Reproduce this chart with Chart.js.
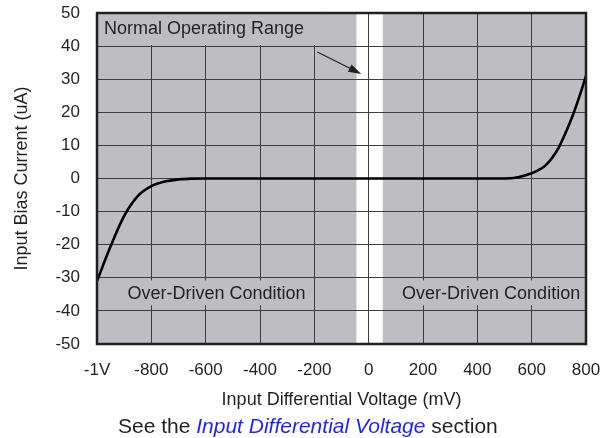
<!DOCTYPE html>
<html>
<head>
<meta charset="utf-8">
<script src="https://cdn.jsdelivr.net/npm/chart.js@4"></script>
<style>
  html, body { margin: 0; padding: 0; background: #fff; }
  #wrap { width: 603px; height: 438px; position: relative; }
</style>
</head>
<body>
<div id="wrap"><canvas id="biasChart"></canvas></div>
<script>
// input differential voltage (mV) vs input bias current (uA)
const voltageMv = [-1000, -950, -900, -850, -800, -750, -700, -650, -600, -400, -200, 0, 200, 400, 500, 550, 600, 625, 650, 675, 700, 725, 750, 775, 800];
const biasUa = [-31, -20.5, -11.3, -5.3, -2.3, -0.9, -0.3, -0.05, 0, 0, 0, 0, 0, 0, 0, 0.4, 1.6, 2.5, 3.9, 6.2, 9.4, 13.8, 18.8, 24.6, 31];

const xTicks = [-1000, -800, -600, -400, -200, 0, 200, 400, 600, 800];
const xTickLabels = ['-1V', '-800', '-600', '-400', '-200', '0', '200', '400', '600', '800'];

const GRAY = '#bebec2';
const INK = '#231f20';
const FONT = "'Liberation Sans', Arial, sans-serif";

// gray backdrop, white "normal" band, label boxes, arrow, frame, footnote
const decorPlugin = {
	id: 'decor',
	beforeDraw(chart) {
		const { ctx, chartArea: a, scales: { x } } = chart;
		ctx.save();
		ctx.fillStyle = GRAY;
		const bands = [[-1000, -45], [52, 800]];
		bands.forEach(([lo, hi]) => {
			const x0 = x.getPixelForValue(lo);
			const x1 = x.getPixelForValue(hi);
			ctx.fillRect(x0, a.top, x1 - x0, a.bottom - a.top);
		});
		ctx.restore();
	},
	beforeDatasetsDraw(chart) {
		const { ctx, chartArea: a, scales: { x, y } } = chart;
		ctx.save();

		// label boxes hide the grid behind the text
		ctx.fillStyle = GRAY;
		ctx.fillRect(a.left, a.top, x.getPixelForValue(-170) - a.left, y.getPixelForValue(40.3) - a.top);
		ctx.fillRect(x.getPixelForValue(-900), y.getPixelForValue(-30.8), x.getPixelForValue(-205) - x.getPixelForValue(-900), y.getPixelForValue(-38.3) - y.getPixelForValue(-30.8));
		ctx.fillRect(x.getPixelForValue(110), y.getPixelForValue(-30.8), a.right - x.getPixelForValue(110), y.getPixelForValue(-38.3) - y.getPixelForValue(-30.8));

		ctx.fillStyle = INK;
		ctx.font = '18px ' + FONT;
		ctx.textBaseline = 'middle';
		ctx.textAlign = 'left';
		ctx.fillText('Normal Operating Range', a.left + 7, y.getPixelForValue(45.2));
		ctx.fillText('Over-Driven Condition', x.getPixelForValue(-888), y.getPixelForValue(-34.8));
		ctx.fillText('Over-Driven Condition', x.getPixelForValue(123), y.getPixelForValue(-34.8));

		// arrow into the normal operating band
		const sx = x.getPixelForValue(-189), sy = y.getPixelForValue(38.2);
		const ex = x.getPixelForValue(-27), ey = y.getPixelForValue(31.6);
		const ang = Math.atan2(ey - sy, ex - sx);
		ctx.strokeStyle = INK;
		ctx.lineWidth = 1.2;
		ctx.beginPath();
		ctx.moveTo(sx, sy);
		ctx.lineTo(ex - 10 * Math.cos(ang), ey - 10 * Math.sin(ang));
		ctx.stroke();
		ctx.beginPath();
		ctx.moveTo(ex, ey);
		ctx.lineTo(ex - 13 * Math.cos(ang) + 4 * Math.sin(ang), ey - 13 * Math.sin(ang) - 4 * Math.cos(ang));
		ctx.lineTo(ex - 13 * Math.cos(ang) - 4 * Math.sin(ang), ey - 13 * Math.sin(ang) + 4 * Math.cos(ang));
		ctx.closePath();
		ctx.fill();
		ctx.restore();
	},
	afterDatasetsDraw(chart) {
		const { ctx, chartArea: a } = chart;
		ctx.save();
		ctx.strokeStyle = INK;
		ctx.lineWidth = 2.5;
		ctx.strokeRect(a.left, a.top, a.right - a.left, a.bottom - a.top);
		ctx.restore();
	},
	afterDraw(chart) {
		const { ctx } = chart;
		ctx.save();
		ctx.textBaseline = 'middle';
		ctx.textAlign = 'left';
		const parts = [
			{ text: 'See the ', font: '21px ' + FONT, color: INK },
			{ text: 'Input Differential Voltage', font: 'italic 21px ' + FONT, color: '#1f1fff' },
			{ text: ' section', font: '21px ' + FONT, color: INK }
		];
		let px = 118;
		parts.forEach(p => {
			ctx.font = p.font;
			ctx.fillStyle = p.color;
			ctx.fillText(p.text, px, 427);
			px += ctx.measureText(p.text).width;
		});
		ctx.restore();
	}
};

const ctx = document.getElementById('biasChart');
new Chart(ctx, {
	type: 'line',
	data: {
		labels: voltageMv,
		datasets: [{
			data: voltageMv.map((v, i) => ({ x: v, y: biasUa[i] })),
			borderColor: '#000',
			borderWidth: 2.6,
			pointRadius: 0,
			fill: false,
			cubicInterpolationMode: 'monotone'
		}]
	},
	options: {
		responsive: true,
		maintainAspectRatio: false,
		animation: false,
		layout: { padding: { top: 13, right: 17, left: 0, bottom: 0 } },
		plugins: {
			legend: { display: false },
			tooltip: { enabled: false }
		},
		scales: {
			x: {
				type: 'linear',
				min: -1000,
				max: 800,
				afterFit: (scale) => {
					scale.height = 94;
					scale.paddingLeft = 0;
					scale.paddingRight = 0;
				},
				afterBuildTicks: (scale) => { scale.ticks = xTicks.map(v => ({ value: v })); },
				ticks: {
					color: INK,
					font: { family: FONT, size: 17 },
					padding: 16,
					maxRotation: 0,
					autoSkip: false,
					callback: (v) => xTickLabels[xTicks.indexOf(v)]
				},
				grid: { color: '#3d3d3d', lineWidth: 1, drawTicks: false },
				border: { display: false },
				title: {
					display: true,
					text: 'Input Differential Voltage (mV)',
					color: INK,
					font: { family: FONT, size: 18 },
					padding: { top: 0, bottom: 27 }
				}
			},
			y: {
				min: -50,
				max: 50,
				afterFit: (scale) => {
					scale.width = 97;
					scale.paddingTop = 0;
					scale.paddingBottom = 0;
				},
				ticks: {
					stepSize: 10,
					color: INK,
					font: { family: FONT, size: 17 },
					padding: 17
				},
				grid: { color: '#3d3d3d', lineWidth: 1, drawTicks: false },
				border: { display: false },
				title: {
					display: true,
					text: 'Input Bias Current (uA)',
					color: INK,
					font: { family: FONT, size: 18 },
					padding: { top: 11, bottom: 0 }
				}
			}
		}
	},
	plugins: [decorPlugin]
});
</script>
</body>
</html>
